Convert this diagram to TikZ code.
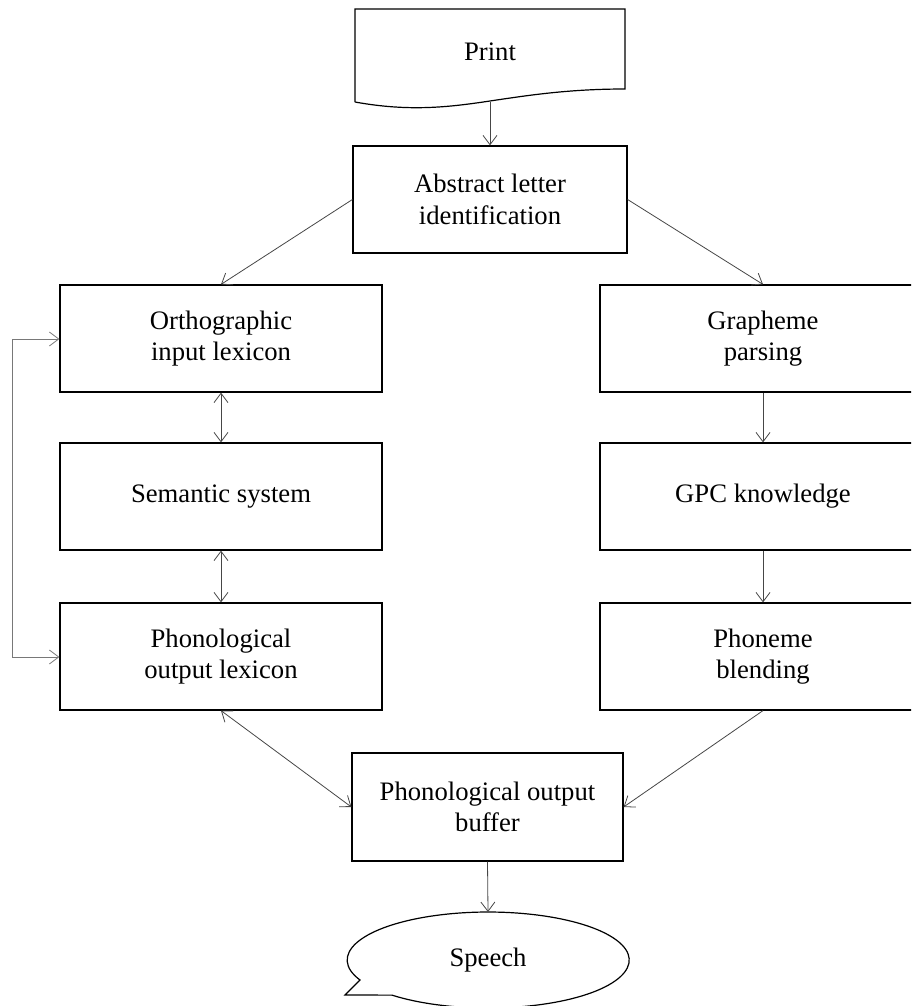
\documentclass[tikz,border=0pt]{standalone}
\usepackage{fontspec}
\setmainfont{Liberation Serif}
\usetikzlibrary{arrows.meta}
\definecolor{conn}{RGB}{70,70,70}
\definecolor{loopc}{RGB}{120,120,120}
\tikzset{
  box/.style={draw=black, line width=0.9pt, align=center, inner sep=0pt,
    font=\fontsize{20}{23.5}\selectfont, minimum height=80.25pt},
  lbox/.style={box, minimum width=241.5pt},
  rbox/.style={box, minimum width=244.5pt},
  plain/.style={align=center, inner sep=0pt, font=\fontsize{20}{23.5}\selectfont},
  link/.style={draw=conn, line width=0.6pt, -{Straight Barb[length=7pt,width=10.5pt,line width=0.6pt]}},
  blink/.style={draw=conn, line width=0.6pt, {Straight Barb[length=7pt,width=10.5pt,line width=0.6pt]}-{Straight Barb[length=7pt,width=10.5pt,line width=0.6pt]}},
  shapeline/.style={draw=black, line width=0.9pt}
}
\begin{document}
\begin{tikzpicture}[x=0.75pt,y=-0.75pt]
\useasboundingbox (0,0) rectangle (911,1006);
\clip (0,0) rectangle (911,1006);
% Print document shape
\path[shapeline] (355,102) -- (355,9) -- (625,9) -- (625,89)
  .. controls (570,89) and (530,95) .. (490,101)
  .. controls (450,107) and (410,112) .. (355,102);
\node[plain] (print) at (490,52) {Print};
\coordinate (printb) at (490,102);
% boxes
\node[box, minimum width=205.5pt, minimum height=80.25pt] (abs) at (490,199.5) {Abstract letter\\identification};
\node[lbox] (orth) at (221,338.5) {Orthographic\\input lexicon};
\node[lbox] (sem) at (221,496.5) {Semantic system};
\node[lbox] (plex) at (221,656.5) {Phonological\\output lexicon};
\node[rbox] (graph) at (763,338.5) {Grapheme\\parsing};
\node[rbox] (gpc) at (763,496.5) {GPC knowledge};
\node[rbox] (blend) at (763,656.5) {Phoneme\\blending};
\node[box, minimum width=203.25pt, minimum height=81pt] (buf) at (487.5,807) {Phonological output\\buffer};
% Speech bubble
\path[shapeline] (360,980) arc[start angle=155.4, end angle=493, x radius=141, y radius=48]
  -- (345,995) -- cycle;
\node[plain] (speech) at (488,960) {Speech};
\coordinate (speecht) at (488,912);
% connectors
\draw[link] (printb) -- (abs.north);
\draw[link] (abs.west) -- (orth.north);
\draw[link] (abs.east) -- (graph.north);
\draw[blink] (orth.south) -- (sem.north);
\draw[blink] (sem.south) -- (plex.north);
\draw[link] (graph.south) -- (gpc.north);
\draw[link] (gpc.south) -- (blend.north);
\draw[blink] (plex.south) -- (buf.west);
\draw[link] (blend.south) -- (buf.east);
\draw[link] (buf.south) -- (speecht);
\coordinate (lt) at (12,339);
\coordinate (lb) at (12,657);
\draw[blink, draw=loopc] (orth.west |- lt) -- (lt) -- (lb) -- (plex.west |- lb);
\end{tikzpicture}
\end{document}
